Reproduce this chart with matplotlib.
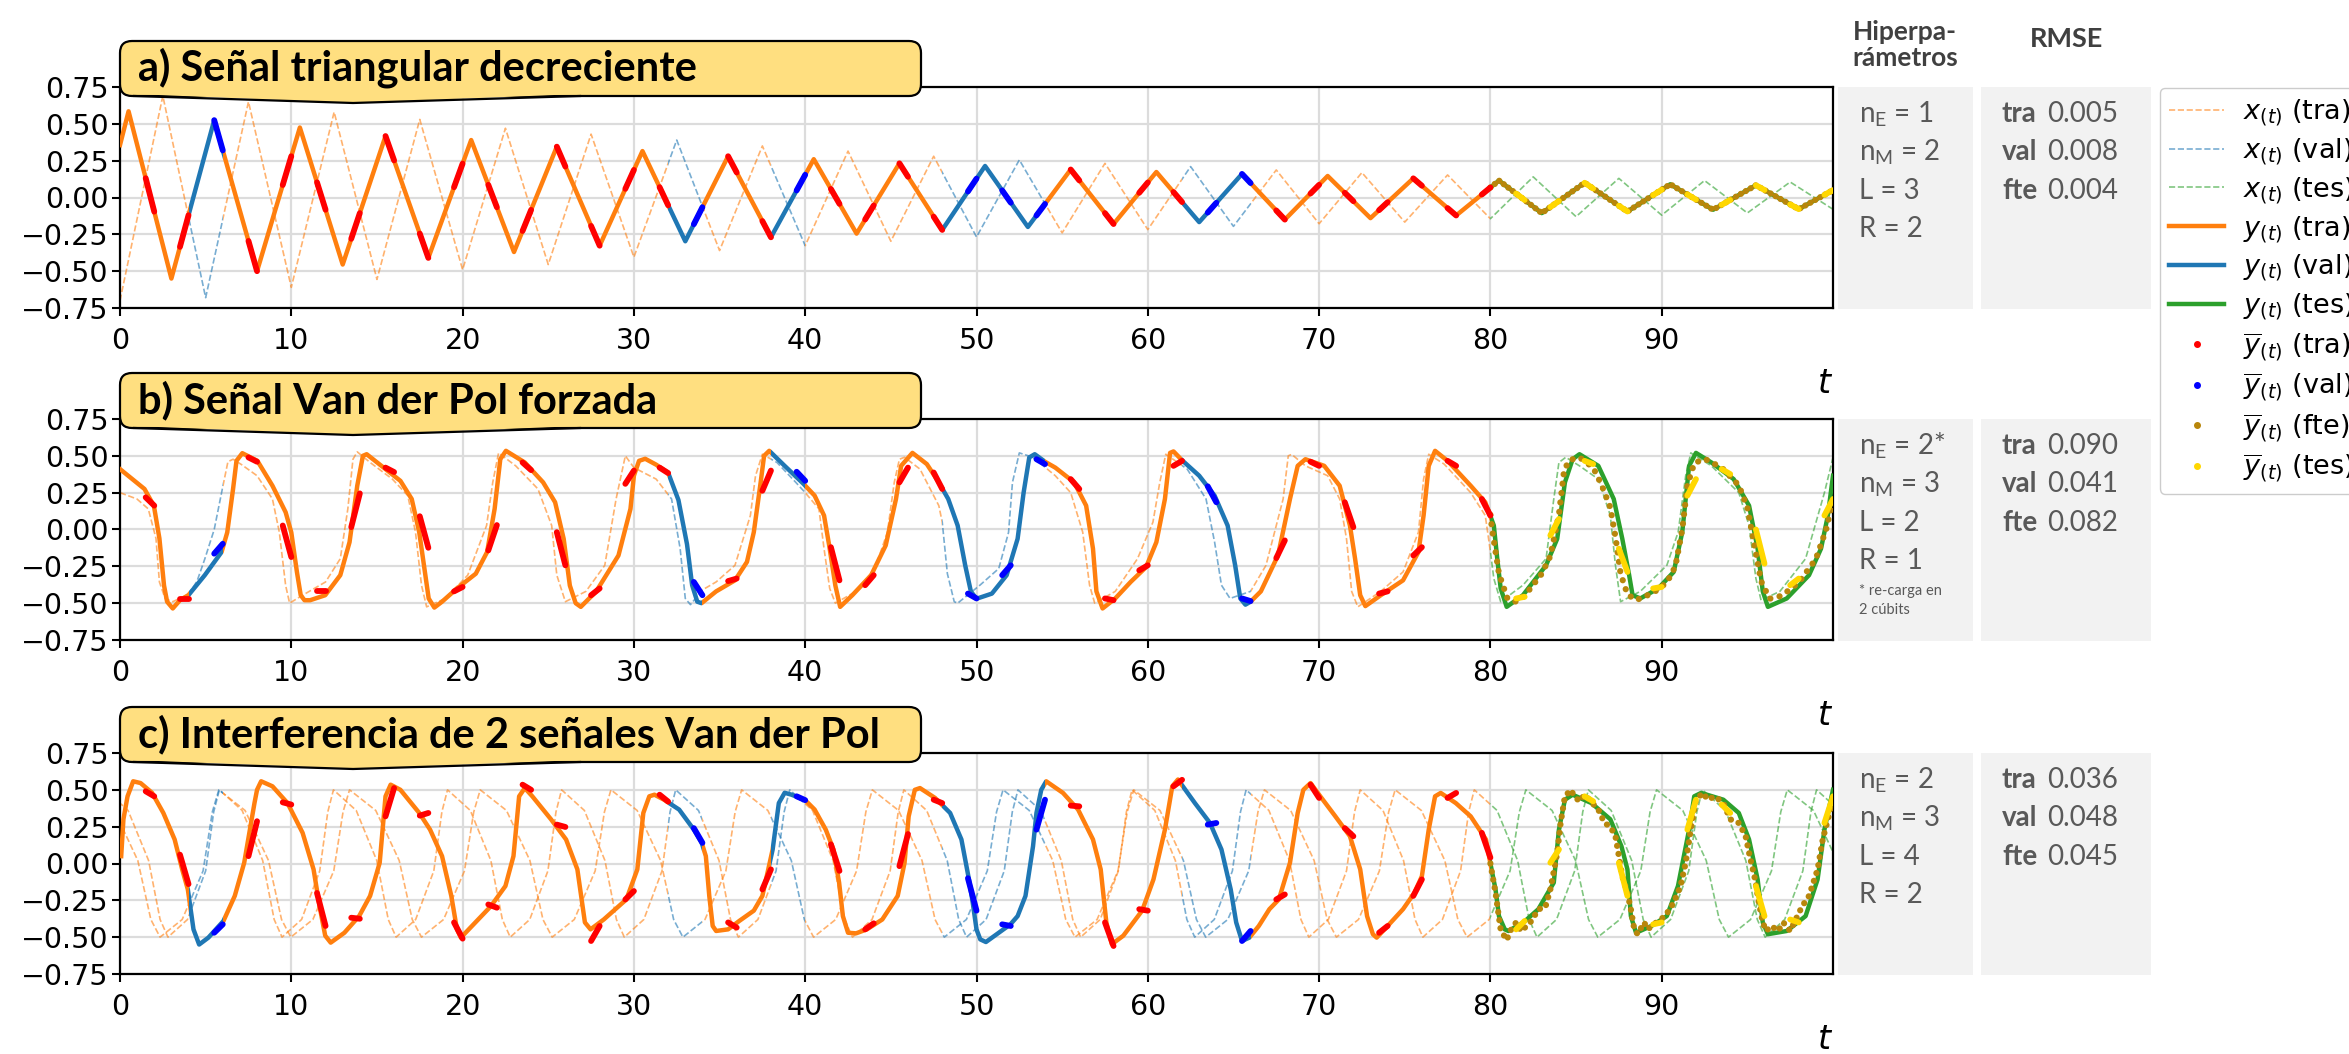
import matplotlib.pyplot as plt
from matplotlib.patches import Rectangle, FancyBboxPatch, Polygon
from matplotlib.lines import Line2D
from matplotlib.transforms import IdentityTransform

# ---------------- data ----------------
VAL = [(4, 6), (32, 34), (38, 40), (48, 54), (62, 66)]
TRAIN = [(0, 4), (6, 32), (34, 38), (40, 48), (54, 62), (66, 80)]
TEST = [(80, 100)]

# prediction windows (start / end time)
win_start = [1.5, 3.5, 5.5, 7.5, 9.5, 11.5, 13.5, 15.5, 17.5, 19.5,
             21.5, 23.5, 25.5, 27.5, 29.5, 31.5, 33.5, 35.5, 37.5, 39.5,
             41.5, 43.5, 45.5, 47.5, 49.5, 51.5, 53.5, 55.5, 57.5, 59.5,
             61.5, 63.5, 65.5, 67.5, 69.5, 71.5, 73.5, 75.5, 77.5, 79.5,
             81.5, 83.5, 85.5, 87.5, 89.5, 91.5, 93.5, 95.5, 97.5, 99.5]
win_end = [2, 4, 6, 8, 10, 12, 14, 16, 18, 20,
           22, 24, 26, 28, 30, 32, 34, 36, 38, 40,
           42, 44, 46, 48, 50, 52, 54, 56, 58, 60,
           62, 64, 66, 68, 70, 72, 74, 76, 78, 80,
           82, 84, 86, 88, 90, 92, 94, 96, 98, 100]

# a) triangular signal
x_a = [(0, -0.7), (2.5, 0.69), (5, -0.68), (7.5, 0.65), (10, -0.61), (12.5, 0.58),
       (15, -0.556), (17.5, 0.53), (20, -0.49), (22.5, 0.47), (25, -0.455), (27.5, 0.43),
       (30, -0.405), (32.5, 0.39), (35, -0.36), (37.5, 0.35), (40, -0.327), (42.5, 0.315),
       (45, -0.297), (47.5, 0.28), (50, -0.268), (52.5, 0.255), (55, -0.24), (57.5, 0.232),
       (60, -0.218), (62.5, 0.21), (65, -0.196), (67.5, 0.187), (70, -0.178), (72.5, 0.169),
       (75, -0.167), (77.5, 0.153), (80, -0.144), (82.5, 0.14), (85, -0.13), (87.5, 0.13),
       (90, -0.12), (92.5, 0.115), (95, -0.105), (97.5, 0.105), (100, -0.08)]
y_a = [(0, 0.356), (0.5, 0.585), (3, -0.55), (5.5, 0.525), (8, -0.5), (10.5, 0.475),
       (13, -0.455), (15.5, 0.417), (18, -0.41), (20.5, 0.39), (23, -0.37), (25.5, 0.345),
       (28, -0.327), (30.5, 0.315), (33, -0.297), (35.5, 0.28), (38, -0.27), (40.5, 0.26),
       (43, -0.245), (45.5, 0.232), (48, -0.22), (50.5, 0.214), (53, -0.2), (55.5, 0.19),
       (58, -0.18), (60.5, 0.173), (63, -0.167), (65.5, 0.16), (68, -0.15), (70.5, 0.146),
       (73, -0.14), (75.5, 0.13), (78, -0.122), (80.5, 0.115), (83, -0.106), (85.5, 0.1),
       (88, -0.095), (90.5, 0.09), (93, -0.083), (95.5, 0.083), (98, -0.079), (100, 0.05)]
fte_a = [(80, 0.068), (80.5, 0.115), (83, -0.106), (85.5, 0.1), (88, -0.095), (90.5, 0.09),
         (93, -0.083), (95.5, 0.083), (98, -0.079), (100, 0.05)]
wa_start = [0.131, -0.335, 0.525, -0.295, 0.085, 0.103, -0.28, 0.417, -0.245, 0.07,
            0.086, -0.227, 0.345, -0.193, 0.059, 0.07, -0.181, 0.28, -0.16, 0.048,
            0.058, -0.149, 0.232, -0.13, 0.041, 0.048, -0.122, 0.19, -0.106, 0.032,
            0.037, -0.102, 0.16, -0.088, 0.027, 0.032, -0.086, 0.13, -0.072, 0.02,
            0.027, -0.065, 0.1, -0.056, 0.016, 0.021, -0.05, 0.083, -0.047, 0.018]
wa_end = [-0.096, -0.12, 0.32, -0.5, 0.28, -0.083, -0.106, 0.252, -0.41, 0.23,
          -0.066, -0.084, 0.21, -0.327, 0.187, -0.053, -0.066, 0.17, -0.27, 0.154,
          -0.043, -0.054, 0.141, -0.22, 0.128, -0.035, -0.044, 0.116, -0.18, 0.102,
          -0.031, -0.036, 0.098, -0.15, 0.086, -0.025, -0.032, 0.08, -0.122, 0.068,
          -0.017, -0.024, 0.061, -0.095, 0.053, -0.014, -0.017, 0.051, -0.079, 0.05]

# b) forced Van der Pol
x_b = [(0, 0.25), (0.99, 0.207), (1.65, 0.14), (2.1, -0.06), (2.3, -0.356), (2.64, -0.47),
       (3.08, -0.49), (4.0, -0.44), (4.5, -0.35), (4.95, -0.2), (5.5, 0.0), (5.93, 0.25),
       (6.3, 0.46), (6.6, 0.477), (7.1, 0.44), (8.0, 0.365), (8.9, 0.207), (9.3, -0.018),
       (9.67, -0.38), (9.9, -0.5), (10.66, -0.446), (12.0, -0.356), (12.86, -0.198),
       (13.3, 0.14), (13.6, 0.477), (13.85, 0.527), (14.6, 0.455), (15.9, 0.342),
       (16.8, 0.23), (17.25, -0.018), (17.6, -0.378), (17.9, -0.525), (19.0, -0.468),
       (20.3, -0.31), (21.4, 0.027), (21.76, 0.32), (22.1, 0.52), (23.1, 0.432),
       (24.4, 0.275), (25.2, 0.027), (25.5, -0.31), (26.0, -0.49), (27.2, -0.42),
       (28.3, -0.243), (28.96, 0.207), (29.5, 0.5), (30.0, 0.42), (31.3, 0.342),
       (32.2, 0.207), (32.7, -0.13), (33.0, -0.468), (33.3, -0.51), (34.0, -0.41),
       (34.8, -0.356), (35.9, -0.243), (36.8, 0.095), (37.1, 0.365), (37.5, 0.511),
       (38.35, 0.455), (39.45, 0.32), (40.0, 0.25), (40.8, 0.14), (41.1, -0.13),
       (41.43, -0.4), (41.76, -0.5), (42.97, -0.42), (44.07, -0.265), (44.8, -0.018),
       (45.2, 0.32), (45.5, 0.477), (45.8, 0.49), (46.7, 0.41), (47.8, 0.162),
       (48.0, 0.05), (48.3, -0.3), (48.7, -0.49), (48.9, -0.5), (50.2, -0.378),
       (51.3, -0.265), (51.87, -0.02), (52.1, 0.32), (52.5, 0.52), (53.3, 0.49),
       (54.6, 0.365), (55.5, 0.25), (56.2, -0.018), (56.6, -0.378), (56.9, -0.5),
       (58.1, -0.42), (59.4, -0.198), (60.3, 0.05), (60.7, 0.32), (61.05, 0.511),
       (62.3, 0.41), (63.4, 0.207), (63.9, -0.086), (64.3, -0.378), (64.8, -0.468),
       (66.0, -0.42), (66.9, -0.243), (67.9, 0.207), (68.2, 0.5), (68.4, 0.51),
       (69.2, 0.432), (70.5, 0.365), (71.2, 0.207), (71.6, -0.063), (71.9, -0.42),
       (72.26, -0.525), (73.6, -0.42), (74.9, -0.288), (75.8, -0.018), (76.1, 0.342),
       (76.4, 0.511), (77.3, 0.444), (78.85, 0.25), (79.7, 0.095), (80.0, -0.15),
       (80.2, -0.333), (80.6, -0.49), (81.9, -0.378), (83.25, -0.198), (83.7, 0.207),
       (84.0, 0.455), (84.4, 0.49), (85.2, 0.432), (86.3, 0.342), (87.0, 0.095),
       (87.3, -0.243), (87.6, -0.49), (88.75, -0.42), (90.3, -0.243), (90.96, -0.018),
       (91.4, 0.365), (91.7, 0.52), (92.9, 0.432), (94.5, 0.25), (95.1, 0.027),
       (95.5, -0.333), (95.8, -0.48), (96.9, -0.42), (98.4, -0.198), (99.5, 0.25),
       (100, 0.489)]
y_b = [(0, 0.41), (1.43, 0.275), (1.98, 0.16), (2.3, -0.06), (2.57, -0.38), (2.75, -0.49),
       (3.08, -0.536), (3.5, -0.48), (4.0, -0.445), (4.95, -0.31), (5.93, -0.153),
       (6.26, -0.02), (6.6, 0.275), (6.8, 0.466), (7.14, 0.518), (8.02, 0.466),
       (8.9, 0.297), (9.67, 0.117), (10.0, -0.02), (10.33, -0.29), (10.55, -0.446),
       (10.77, -0.48), (11.1, -0.48), (11.98, -0.446), (12.86, -0.31), (13.4, -0.086),
       (13.85, 0.297), (14.18, 0.5), (14.4, 0.511), (15.5, 0.41), (16.37, 0.33),
       (17.03, 0.207), (17.47, -0.02), (17.8, -0.29), (18.02, -0.468), (18.35, -0.53),
       (18.8, -0.49), (19.67, -0.4), (20.77, -0.3), (21.43, -0.153), (21.87, 0.14),
       (22.2, 0.477), (22.53, 0.534), (23.63, 0.455), (24.7, 0.32), (25.4, 0.185),
       (25.9, -0.063), (26.26, -0.38), (26.6, -0.5), (26.9, -0.525), (27.8, -0.42),
       (29.1, -0.176), (29.8, 0.14), (30.0, 0.365), (30.3, 0.466), (30.66, 0.48),
       (31.3, 0.44), (32.0, 0.385), (32.6, 0.2), (33.1, -0.1), (33.4, -0.378),
       (33.7, -0.49), (33.95, -0.5), (34.8, -0.42), (35.9, -0.345), (36.6, -0.22),
       (37.0, -0.018), (37.4, 0.32), (37.6, 0.5), (37.9, 0.534), (38.8, 0.432),
       (39.9, 0.31), (40.55, 0.23), (41.1, 0.095), (41.4, -0.108), (41.76, -0.38),
       (42.04, -0.525), (42.75, -0.446), (43.85, -0.31), (44.7, -0.108), (45.3, 0.207),
       (45.6, 0.432), (46.26, 0.52), (47.1, 0.444), (47.8, 0.32), (48.35, 0.207),
       (48.9, 0.027), (49.34, -0.243), (49.67, -0.42), (50.0, -0.47), (50.9, -0.435),
       (51.76, -0.31), (52.4, -0.063), (52.75, 0.25), (53.08, 0.489), (53.4, 0.511),
       (54.0, 0.46), (54.6, 0.42), (55.7, 0.32), (56.4, 0.162), (56.8, -0.13),
       (57.0, -0.42), (57.36, -0.536), (58.1, -0.468), (59.0, -0.356), (59.9, -0.255),
       (60.5, -0.086), (61.0, 0.207), (61.3, 0.52), (61.5, 0.53), (62.0, 0.47),
       (63.0, 0.365), (63.9, 0.23), (64.66, 0.027), (65.1, -0.243), (65.4, -0.468),
       (65.7, -0.51), (66.0, -0.49), (66.6, -0.42), (67.6, -0.176), (68.3, 0.207),
       (68.75, 0.432), (69.2, 0.477), (70.3, 0.432), (71.2, 0.297), (71.8, 0.027),
       (72.1, -0.198), (72.4, -0.446), (72.7, -0.52), (73.6, -0.446), (74.9, -0.345),
       (75.8, -0.153), (76.1, 0.095), (76.4, 0.432), (76.77, 0.534), (77.5, 0.466),
       (78.85, 0.297), (79.7, 0.185), (80.2, 0.027), (80.4, -0.198), (80.6, -0.4),
       (80.95, -0.525), (81.9, -0.446), (83.25, -0.243), (83.9, -0.063), (84.35, 0.32),
       (84.8, 0.477), (85.2, 0.511), (86.3, 0.432), (87.2, 0.207), (87.7, -0.063),
       (88.1, -0.31), (88.3, -0.446), (88.75, -0.468), (89.8, -0.4), (90.7, -0.288),
       (91.2, -0.018), (91.6, 0.432), (92.0, 0.52), (92.9, 0.455), (94.2, 0.342),
       (95.1, 0.162), (95.6, -0.13), (95.9, -0.42), (96.2, -0.525), (97.3, -0.468),
       (98.6, -0.31), (99.3, -0.13), (99.7, 0.095), (100, 0.365)]
fte_b = [(80.0, 0.1), (80.1, 0.0), (80.5, -0.3), (81.0, -0.47), (81.5, -0.49), (82.0, -0.45),
         (83.0, -0.3), (83.5, -0.18), (84.0, 0.1), (84.3, 0.4), (84.6, 0.47), (85.2, 0.49),
         (86.0, 0.42), (86.5, 0.3), (87.0, 0.15), (87.3, -0.05), (87.6, -0.3), (88.0, -0.44),
         (88.5, -0.48), (89.5, -0.43), (90.3, -0.36), (90.8, -0.25), (91.2, 0.0), (91.5, 0.3),
         (91.9, 0.45), (92.5, 0.48), (93.5, 0.42), (94.5, 0.3), (95.0, 0.15), (95.4, -0.1),
         (95.8, -0.35), (96.3, -0.47), (97.0, -0.45), (98.0, -0.36), (99.0, -0.2),
         (99.6, 0.0), (100, 0.2)]
wb_start = [0.218, -0.475, -0.164, 0.489, 0.027, -0.42, 0.016, 0.42, 0.09, -0.42,
            -0.142, 0.455, -0.018, -0.446, 0.31, 0.42, -0.356, -0.35, 0.263, 0.392,
            -0.12, -0.378, 0.32, 0.387, -0.435, -0.31, 0.477, 0.342, -0.468, -0.277,
            0.432, 0.293, -0.468, -0.194, 0.46, 0.185, -0.435, -0.176, 0.466, 0.207,
            -0.468, -0.04, 0.466, -0.13, -0.4, 0.23, 0.41, 0.0, -0.378, 0.095]
wb_end = [0.162, -0.475, -0.097, 0.46, -0.187, -0.42, 0.245, 0.39, -0.124, -0.39,
          0.03, 0.403, -0.243, -0.4, 0.4, 0.383, -0.446, -0.333, 0.4, 0.33,
          -0.345, -0.31, 0.42, 0.275, -0.468, -0.243, 0.444, 0.275, -0.48, -0.243,
          0.466, 0.185, -0.486, -0.074, 0.432, 0.016, -0.42, -0.12, 0.432, 0.095,
          -0.457, 0.072, 0.444, -0.288, -0.39, 0.342, 0.376, -0.232, -0.333, 0.207]

# c) interference of two Van der Pol signals (two clipped inputs)
x_c1_t = [-0.86, 0.47, 1.67, 2.34, 2.8, 3.94, 5.0, 5.47,
          5.8, 7.13, 8.33, 9.0, 9.46, 10.6, 11.66, 12.13,
          12.46, 13.79, 14.99, 15.66, 16.12, 17.26, 18.32, 18.79,
          19.12, 20.45, 21.65, 22.32, 22.78, 23.92, 24.98, 25.45,
          25.78, 27.11, 28.31, 28.98, 29.44, 30.58, 31.64, 32.11,
          32.44, 33.77, 34.97, 35.64, 36.1, 37.24, 38.3, 38.77,
          39.1, 40.43, 41.63, 42.3, 42.76, 43.9, 44.96, 45.43,
          45.76, 47.09, 48.29, 48.96, 49.42, 50.56, 51.62, 52.09,
          52.42, 53.75, 54.95, 55.62, 56.08, 57.22, 58.28, 58.75,
          59.08, 60.41, 61.61, 62.28, 62.74, 63.88, 64.94, 65.41,
          65.74, 67.07, 68.27, 68.94, 69.4, 70.54, 71.6, 72.07,
          72.4, 73.73, 74.93, 75.6, 76.06, 77.2, 78.26, 78.73,
          79.06, 80.39, 81.59, 82.26, 82.72, 83.86, 84.92, 85.39,
          85.72, 87.05, 88.25, 88.92, 89.38, 90.52, 91.58, 92.05,
          92.38, 93.71, 94.91, 95.58, 96.04, 97.18, 98.24, 98.71,
          99.04, 100.37]
x_c1_v = [0.5, 0.36, 0.02, -0.38, -0.5, -0.38, -0.05, 0.35,
          0.5, 0.36, 0.02, -0.38, -0.5, -0.38, -0.05, 0.35,
          0.5, 0.36, 0.02, -0.38, -0.5, -0.38, -0.05, 0.35,
          0.5, 0.36, 0.02, -0.38, -0.5, -0.38, -0.05, 0.35,
          0.5, 0.36, 0.02, -0.38, -0.5, -0.38, -0.05, 0.35,
          0.5, 0.36, 0.02, -0.38, -0.5, -0.38, -0.05, 0.35,
          0.5, 0.36, 0.02, -0.38, -0.5, -0.38, -0.05, 0.35,
          0.5, 0.36, 0.02, -0.38, -0.5, -0.38, -0.05, 0.35,
          0.5, 0.36, 0.02, -0.38, -0.5, -0.38, -0.05, 0.35,
          0.5, 0.36, 0.02, -0.38, -0.5, -0.38, -0.05, 0.35,
          0.5, 0.36, 0.02, -0.38, -0.5, -0.38, -0.05, 0.35,
          0.5, 0.36, 0.02, -0.38, -0.5, -0.38, -0.05, 0.35,
          0.5, 0.36, 0.02, -0.38, -0.5, -0.38, -0.05, 0.35,
          0.5, 0.36, 0.02, -0.38, -0.5, -0.38, -0.05, 0.35,
          0.5, 0.36, 0.02, -0.38, -0.5, -0.38, -0.05, 0.35,
          0.5, 0.36]
x_c2_t = [-1.86, -0.33, 1.04, 1.8, 2.34, 3.63, 4.85, 5.39,
          5.77, 7.3, 8.67, 9.43, 9.97, 11.26, 12.48, 13.02,
          13.4, 14.93, 16.3, 17.06, 17.6, 18.89, 20.11, 20.65,
          21.03, 22.56, 23.93, 24.69, 25.23, 26.52, 27.74, 28.28,
          28.66, 30.19, 31.56, 32.32, 32.86, 34.15, 35.37, 35.91,
          36.29, 37.82, 39.19, 39.95, 40.49, 41.78, 43.0, 43.54,
          43.92, 45.45, 46.82, 47.58, 48.12, 49.41, 50.63, 51.17,
          51.55, 53.08, 54.45, 55.21, 55.75, 57.04, 58.26, 58.8,
          59.18, 60.71, 62.08, 62.84, 63.38, 64.67, 65.89, 66.43,
          66.81, 68.34, 69.71, 70.47, 71.01, 72.3, 73.52, 74.06,
          74.44, 75.97, 77.34, 78.1, 78.64, 79.93, 81.15, 81.69,
          82.07, 83.6, 84.97, 85.73, 86.27, 87.56, 88.78, 89.32,
          89.7, 91.23, 92.6, 93.36, 93.9, 95.19, 96.41, 96.95,
          97.33, 98.86, 100.23]
x_c2_v = [0.5, 0.36, 0.02, -0.38, -0.5, -0.38, -0.05, 0.35,
          0.5, 0.36, 0.02, -0.38, -0.5, -0.38, -0.05, 0.35,
          0.5, 0.36, 0.02, -0.38, -0.5, -0.38, -0.05, 0.35,
          0.5, 0.36, 0.02, -0.38, -0.5, -0.38, -0.05, 0.35,
          0.5, 0.36, 0.02, -0.38, -0.5, -0.38, -0.05, 0.35,
          0.5, 0.36, 0.02, -0.38, -0.5, -0.38, -0.05, 0.35,
          0.5, 0.36, 0.02, -0.38, -0.5, -0.38, -0.05, 0.35,
          0.5, 0.36, 0.02, -0.38, -0.5, -0.38, -0.05, 0.35,
          0.5, 0.36, 0.02, -0.38, -0.5, -0.38, -0.05, 0.35,
          0.5, 0.36, 0.02, -0.38, -0.5, -0.38, -0.05, 0.35,
          0.5, 0.36, 0.02, -0.38, -0.5, -0.38, -0.05, 0.35,
          0.5, 0.36, 0.02, -0.38, -0.5, -0.38, -0.05, 0.35,
          0.5, 0.36, 0.02, -0.38, -0.5, -0.38, -0.05, 0.35,
          0.5, 0.36, 0.02]
y_c = [(0.07, 0.05), (0.2, 0.3), (0.44, 0.456), (0.77, 0.558), (1.2, 0.546), (1.87, 0.48),
       (2.53, 0.343), (3.19, 0.163), (3.63, -0.04), (3.96, -0.176), (4.07, -0.266),
       (4.29, -0.447), (4.62, -0.55), (5.16, -0.503), (5.6, -0.447), (6.04, -0.39),
       (6.7, -0.22), (7.25, 0.005), (7.58, 0.23), (7.85, 0.41), (8.0, 0.5), (8.24, 0.558),
       (8.9, 0.524), (9.78, 0.41), (10.66, 0.208), (11.3, -0.04), (11.65, -0.29),
       (11.98, -0.49), (12.3, -0.537), (13.1, -0.47), (13.96, -0.357), (14.6, -0.22),
       (15.16, 0.005), (15.5, 0.456), (15.8, 0.535), (16.37, 0.5), (17.47, 0.343),
       (18.1, 0.23), (18.8, 0.05), (19.34, -0.22), (19.67, -0.447), (19.9, -0.503),
       (20.55, -0.424), (21.65, -0.29), (22.5, -0.153), (22.97, 0.05), (23.3, 0.456),
       (23.63, 0.512), (24.07, 0.456), (25.16, 0.3), (26.04, 0.163), (26.7, -0.04),
       (27.14, -0.4), (27.47, -0.447), (28.24, -0.38), (29.56, -0.244), (30.2, -0.04),
       (30.55, 0.343), (30.9, 0.456), (31.2, 0.467), (31.76, 0.433), (32.64, 0.366),
       (33.5, 0.23), (33.96, 0.14), (34.2, 0.05), (34.4, -0.22), (34.6, -0.424),
       (34.8, -0.458), (35.5, -0.447), (36.15, -0.39), (37.0, -0.32), (37.5, -0.22),
       (38.1, 0.095), (38.46, 0.41), (38.8, 0.48), (39.2, 0.467), (39.67, 0.445),
       (40.0, 0.43), (40.55, 0.366), (41.2, 0.23), (41.65, 0.095), (41.98, -0.13),
       (42.2, -0.357), (42.5, -0.47), (42.97, -0.474), (43.6, -0.447), (44.5, -0.38),
       (45.4, -0.22), (45.8, 0.005), (46.04, 0.32), (46.4, 0.5), (46.7, 0.512),
       (47.58, 0.445), (48.46, 0.343), (49.12, 0.163), (49.56, -0.108), (49.78, -0.266),
       (50.0, -0.447), (50.22, -0.515), (50.55, -0.533), (51.3, -0.47), (51.98, -0.413),
       (52.4, -0.357), (52.86, -0.22), (53.3, 0.117), (53.5, 0.343), (53.78, 0.5),
       (54.07, 0.558), (55.05, 0.479), (55.93, 0.366), (56.8, 0.163), (57.25, -0.04),
       (57.58, -0.4), (57.9, -0.548), (58.57, -0.49), (59.67, -0.32), (60.33, -0.108),
       (61.0, 0.23), (61.43, 0.524), (61.76, 0.57), (62.75, 0.41), (63.63, 0.275),
       (64.3, 0.095), (64.84, -0.176), (65.16, -0.4), (65.5, -0.526), (65.93, -0.503),
       (66.48, -0.424), (67.1, -0.31), (67.65, -0.244), (68.3, 0.005), (68.75, 0.343),
       (69.08, 0.5), (69.5, 0.546), (70.07, 0.456), (70.95, 0.32), (71.8, 0.185),
       (72.4, -0.04), (72.8, -0.357), (73.14, -0.48), (73.36, -0.503), (74.0, -0.424),
       (74.9, -0.31), (75.56, -0.2), (76.0, -0.086), (76.4, 0.23), (76.77, 0.456),
       (77.1, 0.479), (77.98, 0.41), (78.85, 0.32), (79.74, 0.163), (80.0, 0.0),
       (80.3, -0.176), (80.5, -0.357), (80.84, -0.447), (81.05, -0.458), (81.93, -0.4),
       (82.8, -0.31), (83.7, -0.13), (84.0, 0.23), (84.35, 0.433), (84.8, 0.467),
       (85.9, 0.41), (87.0, 0.3), (87.65, 0.117), (88.0, -0.04), (88.2, -0.357),
       (88.5, -0.47), (89.4, -0.424), (90.3, -0.357), (90.95, -0.153), (91.6, 0.23),
       (91.9, 0.456), (92.3, 0.479), (93.6, 0.433), (94.5, 0.343), (95.1, 0.163),
       (95.6, -0.108), (95.9, -0.4), (96.2, -0.48), (97.3, -0.458), (98.4, -0.357),
       (99.1, -0.108), (99.5, 0.23), (100, 0.5)]
fte_c = [(80.0, 0.0), (80.3, -0.2), (80.6, -0.45), (80.95, -0.52), (81.2, -0.45), (81.5, -0.4),
         (81.8, -0.46), (82.4, -0.39), (82.8, -0.31), (83.2, -0.3), (83.5, -0.176), (83.9, 0.07),
         (84.1, 0.275), (84.35, 0.456), (84.7, 0.5), (84.9, 0.456), (85.2, 0.422), (85.5, 0.467),
         (86.3, 0.366), (86.66, 0.275), (87.0, 0.25), (87.3, 0.185), (87.5, 0.05), (87.7, -0.086),
         (88.0, -0.2), (88.2, -0.31), (88.4, -0.447), (88.6, -0.48), (88.97, -0.4), (89.2, -0.447),
         (89.4, -0.424), (90.2, -0.357), (90.7, -0.266), (91.1, -0.153), (91.4, 0.005),
         (91.7, 0.23), (92.0, 0.433), (92.4, 0.479), (92.7, 0.433), (93.1, 0.456), (93.6, 0.41),
         (94.0, 0.3), (94.5, 0.275), (94.9, 0.185), (95.1, 0.072), (95.45, -0.108),
         (95.67, -0.266), (95.9, -0.4), (96.1, -0.458), (96.4, -0.424), (96.8, -0.458),
         (97.1, -0.4), (97.5, -0.458), (98.2, -0.29), (98.6, -0.22), (99.1, -0.04),
         (99.4, 0.163), (99.8, 0.343), (100, 0.456)]
wc_start = [0.49, 0.06, -0.47, 0.05, 0.415, -0.2, -0.368, 0.32, 0.325, -0.4,
            -0.278, 0.535, 0.264, -0.526, -0.244, 0.467, 0.24, -0.4, -0.176, 0.456,
            0.13, -0.447, -0.018, 0.433, -0.1, -0.413, 0.23, 0.393, -0.4, -0.31,
            0.524, 0.264, -0.526, -0.244, 0.535, 0.24, -0.47, -0.22, 0.445, 0.208,
            -0.447, 0.005, 0.456, 0.005, -0.413, 0.23, 0.4, -0.153, -0.38, 0.275]
wc_end = [0.456, -0.14, -0.413, 0.287, 0.4, -0.424, -0.375, 0.512, 0.343, -0.51,
          -0.3, 0.5, 0.248, -0.424, -0.187, 0.42, 0.14, -0.435, -0.04, 0.43,
          -0.05, -0.406, 0.2, 0.41, -0.32, -0.424, 0.433, 0.388, -0.56, -0.32,
          0.568, 0.275, -0.458, -0.21, 0.445, 0.185, -0.424, -0.108, 0.479, 0.04,
          -0.39, 0.095, 0.422, -0.22, -0.4, 0.433, 0.343, -0.357, -0.4, 0.456]

titles = ['a) Señal triangular decreciente', 'b) Señal Van der Pol forzada',
          'c) Interferencia de 2 señales Van der Pol']
hyper = [[r'n$_\mathregular{E}$ = 1', r'n$_\mathregular{M}$ = 2', 'L = 3', 'R = 2'],
         [r'n$_\mathregular{E}$ = 2*', r'n$_\mathregular{M}$ = 3', 'L = 2', 'R = 1'],
         [r'n$_\mathregular{E}$ = 2', r'n$_\mathregular{M}$ = 3', 'L = 4', 'R = 2']]
rmse = [[('tra', '0.005'), ('val', '0.008'), ('fte', '0.004')],
        [('tra', '0.090'), ('val', '0.041'), ('fte', '0.082')],
        [('tra', '0.036'), ('val', '0.048'), ('fte', '0.045')]]

# ---------------- styling ----------------
ORANGE, BLUE, GREEN = '#ff7f0e', '#1f77b4', '#2ca02c'
YEL = '#FFDF80'
GREY = '#595959'
W, H = 2349, 1054
ID = IdentityTransform()

fig = plt.figure(figsize=(W / 100, H / 100), dpi=100)


def fx(x):
    return x / W


def fy(y):
    return 1 - y / H


def split_plot(ax, t, v, spans_colors, **kw):
    # one copy of the whole curve per colour, clipped to its time spans
    for color, spans in spans_colors:
        for a, b in spans:
            ln, = ax.plot(t, v, color=color, **kw)
            ln.set_clip_path(Rectangle((a, -0.75), b - a, 1.5, transform=ax.transData))


def win_color(t0):
    if t0 >= 80:
        return 'gold'
    for a, b in VAL:
        if a <= t0 < b:
            return 'blue'
    return 'red'


def unz(pts):
    return [p[0] for p in pts], [p[1] for p in pts]


tops = [87, 419, 753]
xlabel_pad = [8, 8, 1]
panels = [
    ([unz(x_a)], unz(y_a), unz(fte_a), wa_start, wa_end, 0.9),
    ([unz(x_b)], unz(y_b), unz(fte_b), wb_start, wb_end, 1.5),
    ([(x_c1_t, x_c1_v), (x_c2_t, x_c2_v)], unz(y_c), unz(fte_c), wc_start, wc_end, 1.3),
]

for k, (xs, ys, fte, ws, we, gap) in enumerate(panels):
    top = tops[k]
    ax = fig.add_axes([fx(120), fy(top + 221), (1833 - 120) / W, 221 / H])
    ax.set_xlim(0, 100)
    ax.set_ylim(-0.75, 0.75)
    ax.set_xticks([0, 10, 20, 30, 40, 50, 60, 70, 80, 90])
    ax.set_yticks([-0.75, -0.5, -0.25, 0, 0.25, 0.5, 0.75])
    ax.set_yticklabels(['−0.75', '−0.50', '−0.25', '0.00', '0.25', '0.50', '0.75'])
    ax.grid(True, color='#dcdcdc', lw=1.6)
    ax.set_axisbelow(True)
    for s in ax.spines.values():
        s.set_linewidth(1.6)
    ax.tick_params(labelsize=20.5, width=1.5, length=6)
    ax.tick_params(axis='y', pad=2)
    ax.tick_params(axis='x', pad=8)
    ax.set_xlabel('$t$', loc='right', fontsize=24, labelpad=xlabel_pad[k])

    for xt, xv in xs:
        split_plot(ax, xt, xv, [(ORANGE, TRAIN), (BLUE, VAL), (GREEN, TEST)],
                   lw=1.2, ls='--', alpha=0.6, zorder=2)
    split_plot(ax, ys[0], ys[1], [(ORANGE, TRAIN), (BLUE, VAL), (GREEN, TEST)],
               lw=3.2, zorder=3)
    ax.plot(fte[0], fte[1], color='darkgoldenrod', lw=4.5, ls=(0, (0.01, gap)),
            dash_capstyle='round', zorder=4)
    for t0, t1, s, e in zip(win_start, win_end, ws, we):
        ax.plot([t0, t1], [s, e], color=win_color(t0), lw=4.2,
                solid_capstyle='round', zorder=5)

    # title callout
    yt, yb = top - 46, top + 9
    fig.add_artist(FancyBboxPatch((120, H - yb), 801, yb - yt,
                                  boxstyle='round,pad=0,rounding_size=12',
                                  fc=YEL, ec='black', lw=1.6, transform=ID, zorder=5))
    fig.add_artist(Polygon([(134, H - yb + 2), (353, H - yb - 7), (580, H - yb + 2)],
                           closed=True, fc=YEL, ec='none', transform=ID, zorder=6))
    fig.add_artist(Line2D([134, 353, 580], [H - yb, H - yb - 7, H - yb],
                          color='black', lw=1.6, transform=ID, zorder=7))
    fig.text(fx(138), fy(top - 6), titles[k], family='Lato', weight='bold',
             fontsize=30, va='baseline', ha='left', zorder=8)

    # grey info boxes
    fig.add_artist(Rectangle((1838, H - top - 222), 135, 222, fc='#F2F2F2', ec='none',
                             transform=ID, zorder=1))
    fig.add_artist(Rectangle((1981, H - top - 222), 170, 222, fc='#F2F2F2', ec='none',
                             transform=ID, zorder=1))
    for i, line in enumerate(hyper[k]):
        fig.text(fx(1859), fy(top + [35, 73, 112, 150][i]), line, family='Lato',
                 fontsize=20, color=GREY, va='baseline', zorder=8)
    for i, (lab, val) in enumerate(rmse[k]):
        yy = fy(top + [35, 73, 112][i])
        fig.text(fx(2002), yy, lab, family='Lato', weight='bold', fontsize=20,
                 color=GREY, va='baseline', zorder=8)
        fig.text(fx(2047), yy, val, family='Lato', fontsize=20, color=GREY,
                 va='baseline', zorder=8)

fig.text(fx(1859), fy(419 + 176), '* re-carga en', family='Lato', fontsize=10.5,
         color=GREY, va='baseline')
fig.text(fx(1859), fy(419 + 195), '2 cúbits', family='Lato', fontsize=10.5,
         color=GREY, va='baseline')

fig.text(fx(1905), fy(45), 'Hiperpa-\nrámetros', family='Lato', weight='bold',
         fontsize=19, color='#404040', ha='center', va='center', linespacing=1.15)
fig.text(fx(2066), fy(39), 'RMSE', family='Lato', weight='bold', fontsize=19.5,
         color='#404040', ha='center', va='center')

# legend
handles = [
    Line2D([], [], color=ORANGE, ls='--', lw=1.2, alpha=0.6),
    Line2D([], [], color=BLUE, ls='--', lw=1.2, alpha=0.6),
    Line2D([], [], color=GREEN, ls='--', lw=1.2, alpha=0.6),
    Line2D([], [], color=ORANGE, lw=3.2),
    Line2D([], [], color=BLUE, lw=3.2),
    Line2D([], [], color=GREEN, lw=3.2),
    Line2D([], [], color='red', ls='none', marker='o', ms=4),
    Line2D([], [], color='blue', ls='none', marker='o', ms=4),
    Line2D([], [], color='darkgoldenrod', ls='none', marker='o', ms=4),
    Line2D([], [], color='gold', ls='none', marker='o', ms=4),
]
labels = [r'$x_{(t)}$ (tra)', r'$x_{(t)}$ (val)', r'$x_{(t)}$ (tes)',
          r'$y_{(t)}$ (tra)', r'$y_{(t)}$ (val)', r'$y_{(t)}$ (tes)',
          r'$\overline{y}_{(t)}$ (tra)', r'$\overline{y}_{(t)}$ (val)',
          r'$\overline{y}_{(t)}$ (fte)', r'$\overline{y}_{(t)}$ (tes)']
fig.legend(handles, labels, loc='upper left', bbox_to_anchor=(fx(2160), fy(88)),
           borderaxespad=0, fontsize=19.5, labelspacing=0.3, borderpad=0.35,
           handlelength=2.0, handletextpad=0.7, edgecolor='#cccccc', framealpha=1)

fig.savefig('out.png', dpi=100)
